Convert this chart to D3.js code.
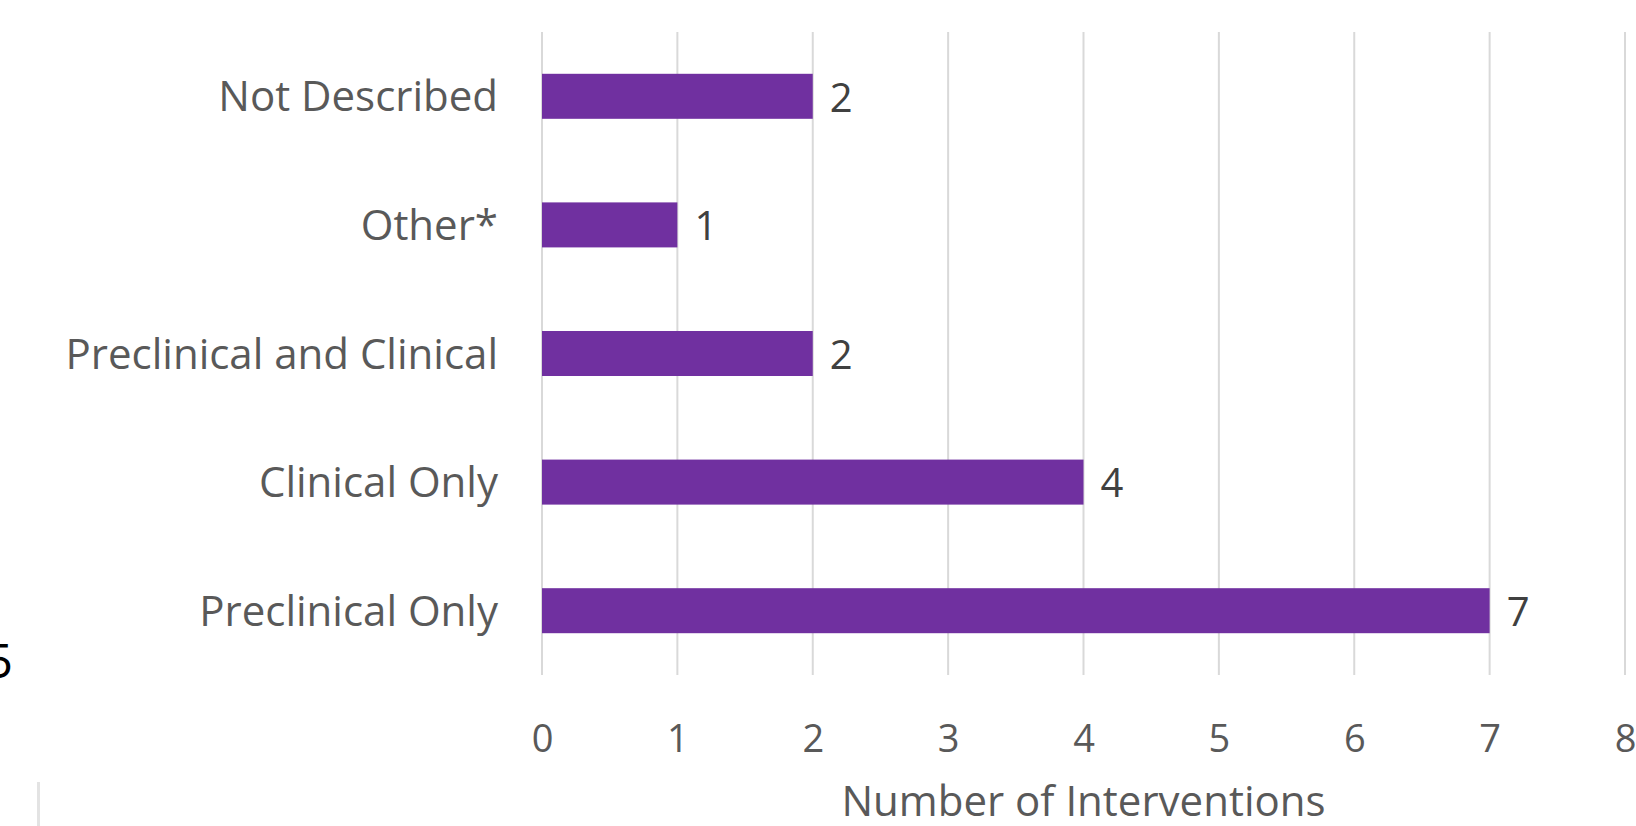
<!DOCTYPE html>
<html>
<head>
<meta charset="utf-8">
<script src="https://cdn.jsdelivr.net/npm/d3@7"></script>
<style>
  body { margin: 0; background: #fff; }
  text { font-family: "Open Sans", sans-serif; }
</style>
</head>
<body>
<div id="chart"></div>
<script>
// chart data
var categories = ["Not Described", "Other*", "Preclinical and Clinical", "Clinical Only", "Preclinical Only"];
var counts = [2, 1, 2, 4, 7];
var xTicks = [0, 1, 2, 3, 4, 5, 6, 7, 8];
var xTitle = "Number of Interventions";

var width = 1636, height = 826;
var margin = {top: 32, right: 11, bottom: 151, left: 542};

var svg = d3.select("#chart").append("svg")
    .attr("width", width)
    .attr("height", height);

var x = d3.scaleLinear()
    .domain([0, 8])
    .range([margin.left, width - margin.right]);

var y = d3.scaleBand()
    .domain(categories)
    .range([margin.top, height - margin.bottom])
    .paddingInner(0.65)
    .paddingOuter(0.325);

// gridlines
svg.append("g")
    .selectAll("line")
    .data(xTicks)
    .enter().append("line")
    .attr("x1", function(d) { return x(d); })
    .attr("x2", function(d) { return x(d); })
    .attr("y1", margin.top)
    .attr("y2", height - margin.bottom)
    .attr("stroke", "#d9d9d9")
    .attr("stroke-width", 2);

// x axis labels
var xAxis = d3.axisBottom(x).tickValues(xTicks).tickSize(0).tickPadding(0);
var gx = svg.append("g")
    .attr("transform", "translate(0," + (height - margin.bottom) + ")")
    .call(xAxis);
gx.select(".domain").remove();
gx.selectAll("text")
    .attr("y", 77)
    .attr("dy", 0)
    .attr("fill", "#595959")
    .style("font-size", "38px")
    .style("font-family", "'Open Sans', sans-serif");

// y axis labels
var yAxis = d3.axisLeft(y).tickSize(0).tickPadding(0);
var gy = svg.append("g")
    .attr("transform", "translate(" + (margin.left - 44) + ",0)")
    .call(yAxis);
gy.select(".domain").remove();
gy.selectAll("text")
    .attr("dy", "0.36em")
    .attr("fill", "#595959")
    .style("font-size", "42px")
    .style("font-family", "'Open Sans', sans-serif");

// bars
svg.append("g")
    .selectAll("rect")
    .data(categories)
    .enter().append("rect")
    .attr("x", x(0))
    .attr("y", function(d) { return y(d); })
    .attr("width", function(d, i) { return x(counts[i]) - x(0); })
    .attr("height", y.bandwidth())
    .attr("fill", "#7030a0");

// value labels
svg.append("g")
    .selectAll("text")
    .data(categories)
    .enter().append("text")
    .attr("x", function(d, i) { return x(counts[i]) + 17; })
    .attr("y", function(d) { return y(d) + y.bandwidth() / 2; })
    .attr("dy", "0.38em")
    .attr("fill", "#404040")
    .style("font-size", "40px")
    .text(function(d, i) { return counts[i]; });

// axis title
svg.append("text")
    .attr("x", (x(0) + x(8)) / 2)
    .attr("y", 816)
    .attr("text-anchor", "middle")
    .attr("fill", "#595959")
    .style("font-size", "42px")
    .text(xTitle);

// stray bits at the left edge of the source image
svg.append("text")
    .attr("x", 13)
    .attr("y", 678)
    .attr("text-anchor", "end")
    .attr("fill", "#000")
    .style("font-size", "48px")
    .text("5");
svg.append("line")
    .attr("x1", 38.5).attr("x2", 38.5)
    .attr("y1", 782).attr("y2", height)
    .attr("stroke", "#e3e3e3")
    .attr("stroke-width", 3);
</script>
</body>
</html>
